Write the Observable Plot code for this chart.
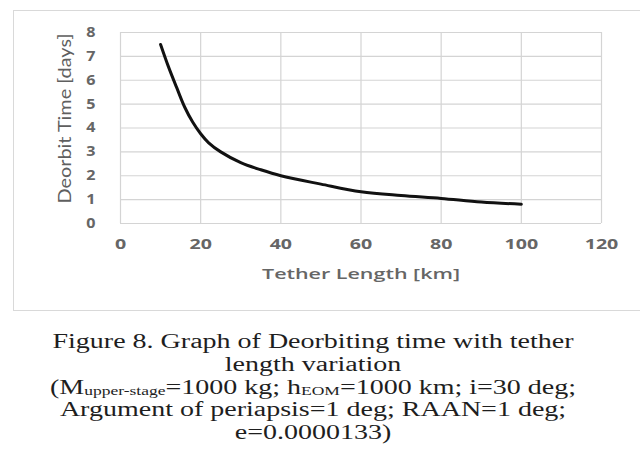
<!DOCTYPE html>
<html>
<head>
<meta charset="utf-8">
<script src="https://cdn.jsdelivr.net/npm/d3@7"></script>
<script src="https://cdn.jsdelivr.net/npm/@observablehq/plot@0.6"></script>
<style>
  html, body { margin: 0; padding: 0; background: #fff; width: 640px; height: 451px; overflow: hidden; }
  #frame { position: absolute; left: 13px; top: 10px; width: 640px; height: 299px; border: 1px solid #d9d9d9; border-right: none; }
  #chart { position: absolute; left: 0; top: 0; }
  #caption { position: absolute; left: -7.5px; top: 330px; width: 640px; text-align: center;
    font-family: "Liberation Serif", "DejaVu Serif", serif; font-size: 20px; line-height: 22.8px; color: #1e1e1e;
    transform: scaleX(1.4); transform-origin: 50% 0; }
  #caption sub { font-size: 12.5px; line-height: 0; vertical-align: -1px; }
</style>
</head>
<body>
<div id="frame"></div>
<div id="chart"></div>
<div id="caption">
  Figure 8. Graph of Deorbiting time with tether<br>
  length variation<br>
  (M<sub>upper-stage</sub>=1000 kg; h<sub>EOM</sub>=1000 km; i=30 deg;<br>
  Argument of periapsis=1 deg; RAAN=1 deg;<br>
  e=0.0000133)
</div>
<script>
const tetherLength = [10, 12, 14, 16, 18, 20, 22, 25, 30, 35, 40, 50, 60, 70, 80, 90, 100];
const deorbitDays  = [7.5, 6.55, 5.7, 4.88, 4.25, 3.76, 3.38, 3.0, 2.55, 2.25, 2.0, 1.65, 1.33, 1.17, 1.05, 0.9, 0.81];
const xTicks = [0, 20, 40, 60, 80, 100, 120];
const yTicks = [0, 1, 2, 3, 4, 5, 6, 7, 8];
const xTitle = "Tether Length [km]";
const yTitle = "Deorbit Time [days]";

const data = tetherLength.map((x, i) => ({x, y: deorbitDays[i]}));

const chart = Plot.plot({
  width: 640,
  height: 310,
  marginLeft: 120,
  marginRight: 39,
  marginTop: 32,
  marginBottom: 87,
  style: { background: "transparent", overflow: "visible" },
  x: { domain: [0, 120], ticks: xTicks },
  y: { domain: [0, 8], ticks: yTicks },
  marks: [
    Plot.gridX(xTicks, { stroke: "#d4d4d4", strokeOpacity: 1, strokeWidth: 1.2 }),
    Plot.gridY(yTicks, { stroke: "#d4d4d4", strokeOpacity: 1, strokeWidth: 1.2 }),
    Plot.axisX(xTicks, {
      tickSize: 0, tickPadding: 16, fontSize: 14, fontWeight: "bold",
      fontFamily: "Open Sans, sans-serif", fill: "#666", label: null
    }),
    Plot.axisY(yTicks, {
      tickSize: 0, tickPadding: 25, fontSize: 14, fontWeight: "bold",
      fontFamily: "Open Sans, sans-serif", fill: "#666", label: null
    }),
    Plot.text([xTitle], {
      frameAnchor: "bottom", dy: 51, textAnchor: "middle", lineAnchor: "middle",
      fontSize: 14, fontWeight: 600,
      fontFamily: "Open Sans, sans-serif", fill: "#666"
    }),
    Plot.text([yTitle], {
      frameAnchor: "left", dx: -55, dy: -9.5, rotate: -90, textAnchor: "middle", lineAnchor: "middle",
      fontSize: 17, fontFamily: "Lato, sans-serif", fill: "#5f5f5f"
    }),
    Plot.line(data, { x: "x", y: "y", stroke: "#111", strokeWidth: 3, curve: "catmull-rom" })
  ]
});
document.getElementById("chart").appendChild(chart);

function stretch(selection, factor, fixed) {
  selection.each(function () {
    const L = fixed || this.getComputedTextLength() * factor;
    this.setAttribute("textLength", L);
    this.setAttribute("lengthAdjust", "spacingAndGlyphs");
  });
}
const svg = d3.select(chart);
stretch(svg.selectAll("[aria-label='x-axis tick label'] text"), 1.4);
stretch(svg.selectAll("[aria-label='y-axis tick label'] text"), 1.15);
stretch(svg.selectAll("text").filter(function () { return this.textContent === xTitle; }), 1, 198);
stretch(svg.selectAll("text").filter(function () { return this.textContent === yTitle; }), 1, 170);
</script>
</body>
</html>
